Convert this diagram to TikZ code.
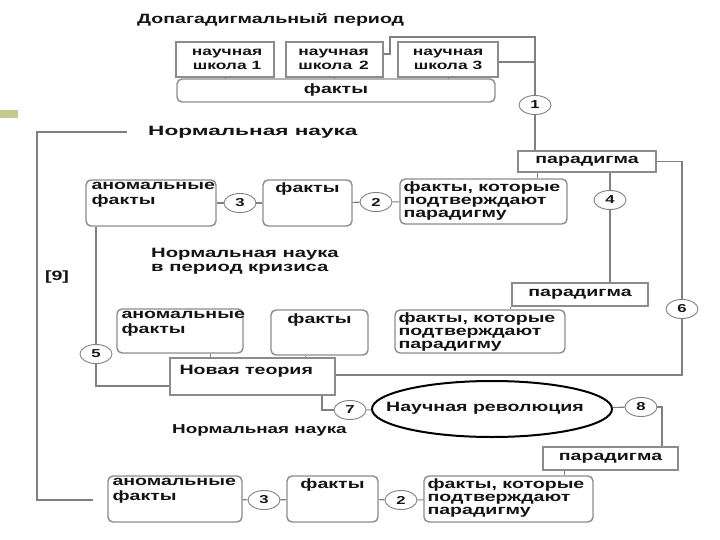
\documentclass[tikz,border=0pt]{standalone}
\usepackage{fontspec}
\newfontfamily\dfont{Liberation Sans}[FakeStretch=1.45]
\usetikzlibrary{shapes.geometric,fit}
\definecolor{bx}{HTML}{8C8C8C}
\definecolor{ln}{HTML}{808080}
\definecolor{tx}{HTML}{141414}
\definecolor{grn}{HTML}{C3C98F}
\begin{document}
\begin{tikzpicture}[x=1pt,y=-1pt,
  sqbox/.style={draw=bx,line width=1.4pt,inner sep=0pt,fill=white},
  rdbox/.style={sqbox,rounded corners=5pt},
  tt/.style={font=\dfont\bfseries\fontsize{13.5}{14.5}\selectfont,text=tx,align=left,inner sep=0pt},
  tt3/.style={tt,font=\dfont\bfseries\fontsize{13.5}{13.2}\selectfont},
  tts/.style={tt,font=\dfont\bfseries\fontsize{12}{14.5}\selectfont},
  numc/.style={ellipse,draw=ln,line width=0.9pt,fill=white,minimum width=32pt,minimum height=19pt,inner sep=0pt,text=tx,font=\dfont\bfseries\fontsize{11.5}{11.5}\selectfont},
  conn/.style={draw=ln,line width=1.1pt}]
\fill[white] (0,0) rectangle (720,540);
\useasboundingbox (0,0) rectangle (720,540);
\fill[grn] (0,110) rectangle (18,118);

% headers
\node[tt,anchor=west] (h0) at (137,20) {Допагадигмальный период};
\node[tt,anchor=west] (h1) at (148,132) {\scalebox{1.155}[1]{Нормальная наука}};
\node[tt,anchor=north west] (h2) at (151,248) {\scalebox{1.035}[1]{Нормальная наука}\\\scalebox{1.035}[1]{в период кризиса}};
\node[tt,anchor=west,font=\dfont\bfseries\fontsize{13}{14}\selectfont] (h3) at (172,430) {Нормальная наука};
\node[tt] (l9) at (57,277) {[9]};

% top schools
\node[sqbox,fit={(176,42) (274,77)}] (s1) {};
\node[sqbox,fit={(286,42) (383,77)}] (s2) {};
\node[sqbox,fit={(398,42) (498,77)}] (s3) {};
\node[tts,align=center] at ([xshift=2pt]s1.center) {научная\\школа 1};
\node[tts,align=center] at ([xshift=-1pt]s2.center) {научная\\школа \,2};
\node[tts,align=center] at (s3.center) {научная\\школа 3};
\node[rdbox,fit={(177,79) (495,102)}] (f0) {};
\node[tt] at (f0.center) {факты};
\draw[conn,line width=0.6pt] (s1.south) -- (s1.south |- f0.north);
\draw[conn,line width=0.6pt] (s2.south) -- (s2.south |- f0.north);
\draw[conn,line width=0.6pt] (s3.south) -- (s3.south |- f0.north);

% paradigm 1
\node[numc] (c1) at (535,105) {1};
\node[sqbox,fit={(518,151) (656,172)}] (p1) {};
\node[tt] at (p1.center) {парадигма};
\draw[conn] ([yshift=5.5pt]s2.east) -| (390,37) -| (c1.north);
\draw[conn] ([yshift=-2.5pt]s3.east) -- ([yshift=-2.5pt]s3.east -| c1.north);
\draw[conn] (c1.south) -- (c1.south |- p1.north);

% row 1
\node[rdbox,fit={(86,180) (216,226)}] (a1) {};
\node[tt,anchor=north west] at ([xshift=6pt,yshift=-3pt]a1.north west) {аномальные\\факты};
\node[numc] (c3a) at (240,203) {3};
\node[rdbox,fit={(263,180) (352,226)}] (f1) {};
\node[tt,anchor=north] at ([yshift=-3pt]f1.north) {факты};
\node[numc] (c2a) at (376,202) {2};
\node[rdbox,fit={(400,179) (567,224)}] (fc1) {};
\node[tt3,anchor=north west] at ([xshift=4pt,yshift=-3pt]fc1.north west) {факты, которые\\подтверждают\\парадигму};
\draw[conn] (a1) -- (c3a) -- (f1);
\draw[conn] (f1) -- (c2a) -- (fc1);
\draw[conn,line width=0.6pt] ([xshift=-50pt]p1.south) -- ([xshift=-50pt]p1.south |- fc1.north);

% paradigm 2
\node[numc] (c4) at (610,200) {4};
\node[sqbox,fit={(512,283) (648,306)}] (p2) {};
\node[tt] at (p2.center) {парадигма};
\draw[conn] (p1.south -| c4) -- (c4.north);
\draw[conn] (c4.south) -- (c4.south |- p2.north);

% row 2
\node[rdbox,fit={(117,309) (243,353)}] (a2) {};
\node[tt,anchor=north west] at ([xshift=5pt,yshift=-3pt]a2.north west) {аномальные\\факты};
\node[rdbox,fit={(271,310) (368,355)}] (f2) {};
\node[tt,anchor=north] at ([yshift=-4pt]f2.north) {факты};
\node[rdbox,fit={(395,310) (565,353)}] (fc2) {};
\node[tt3,anchor=north west] at ([xshift=4pt,yshift=-3pt]fc2.north west) {факты, которые\\подтверждают\\парадигму};
\draw[conn,line width=0.6pt] ([xshift=-70pt]p2.south) -- ([xshift=-70pt]p2.south |- fc2.north);

\node[sqbox,fit={(170,358) (335,395)}] (nt) {};
\node[tt,anchor=north west] at ([xshift=10pt,yshift=-8pt]nt.north west) {Новая теория};
\draw[conn,line width=0.6pt] ([xshift=30pt]a2.south) -- ([xshift=30pt]a2.south |- nt.north);
\draw[conn,line width=0.6pt] ([xshift=-14.5pt]f2.south) -- ([xshift=-14.5pt]f2.south |- nt.north);

% 5
\node[numc] (c5) at (96,354) {5};
\draw[conn] ([xshift=-55pt]a1.south) -- ([xshift=-55pt]a1.south |- c5.north);
\draw[conn] (c5.south) |- ([yshift=-9.5pt]nt.west);

% 6
\node[numc] (c6) at (682,309) {6};
\draw[conn] (p1.east) -| (c6.north);
\draw[conn] (c6.south) |- ([yshift=1.5pt]nt.east);

% revolution
\node[numc] (c7) at (350,410) {7};
\node[ellipse,draw=black,line width=2pt,fill=white,minimum width=240pt,minimum height=56pt,inner sep=0pt] (rev) at (492,409) {};
\node[tt] at (485,408) {Научная революция};
\node[numc] (c8) at (641,407) {8};
\draw[conn] ([xshift=69.5pt]nt.south) |- (c7.west);
\draw[conn] (c7) -- (rev);
\draw[conn] (rev) -- (c8);

% paradigm 3
\node[sqbox,fit={(543,447) (678,470)}] (p3) {};
\node[tt] at (p3.center) {парадигма};
\draw[conn] (c8.east) -| ([xshift=51.5pt]p3.north);

% row 3
\node[rdbox,fit={(108,476) (242,522)}] (a3) {};
\node[tt,anchor=north west] at ([xshift=5pt,yshift=-3pt]a3.north west) {аномальные\\факты};
\node[numc] (c3b) at (264,500) {3};
\node[rdbox,fit={(287,476) (378,522)}] (f3) {};
\node[tt,anchor=north] at ([yshift=-3pt]f3.north) {факты};
\node[numc] (c2b) at (401,500) {2};
\node[rdbox,fit={(424,476) (593,522)}] (fc3) {};
\node[tt3,anchor=north west] at ([xshift=4pt,yshift=-3pt]fc3.north west) {факты, которые\\подтверждают\\парадигму};
\draw[conn] (a3) -- (c3b) -- (f3);
\draw[conn] (f3) -- (c2b) -- (fc3);
\draw[conn,line width=0.6pt] ([xshift=-46.5pt]p3.south) -- ([xshift=-46.5pt]p3.south |- fc3.north);

% 9
\coordinate (n9s) at (127,132);
\coordinate (n9e) at (93,500);
\draw[conn] (n9s) -- (37,132) -- (37,500) -- (n9e);
\end{tikzpicture}
\end{document}
